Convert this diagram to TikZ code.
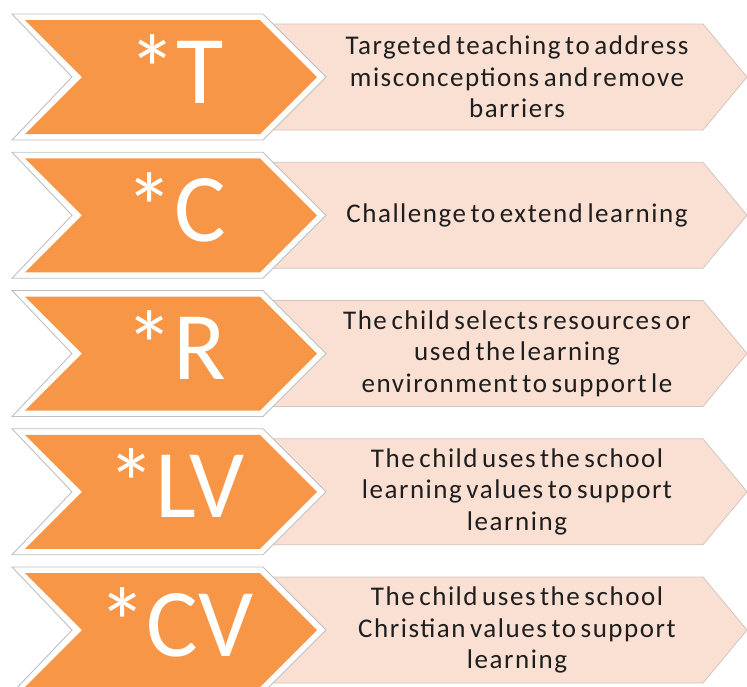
\documentclass[tikz,border=0pt]{standalone}
\usepackage{fontspec}
\setmainfont{Carlito}
\newfontfamily\listfont[LetterSpace=5.7,WordSpace=0.6]{Carlito}
\definecolor{orangefill}{HTML}{F79646}
\definecolor{pinkfill}{HTML}{FADFD3}
\definecolor{pinkline}{HTML}{D2C6C0}
\definecolor{outline}{HTML}{BFBFBF}
\definecolor{textdark}{HTML}{1E1E1E}
\tikzset{
  pinkchev/.style={fill=pinkfill, draw=pinkline, line width=0.8pt, line join=miter},
  whitechev/.style={fill=white, draw=outline, line width=0.9pt, line join=miter},
  orangechev/.style={fill=orangefill, draw=none},
  bigtext/.style={text=white, font=\fontsize{97}{116}\selectfont, anchor=base, inner sep=0pt},
  smalltext/.style={text=textdark, font=\listfont\fontsize{27}{31.5}\selectfont, align=center, anchor=center, inner sep=0pt}
}
\begin{document}
\begin{tikzpicture}[x=1pt,y=-1pt]
\useasboundingbox (0,0) rectangle (747,686);
\foreach \c/\n/\big/\txt in {
  77/1/{*T}/{Targeted teaching to address\\misconceptions and remove\\barriers},
  215.25/2/{*C}/{Challenge to extend learning},
  353.5/3/{*R}/{The child selects resources or\\used the learning\\environment to support le},
  491.75/4/{*LV}/{The child uses the school\\learning values to support\\learning},
  630/5/{*CV}/{The child uses the school\\Christian values to support\\learning}}{
  \draw[pinkchev] (250,\c-53) -- (703,\c-53) -- (747,\c) -- (703,\c+53) -- (250,\c+53) -- cycle;
  \draw[whitechev] (12,\c-63) -- (263,\c-63) -- (326,\c) -- (263,\c+63) -- (12,\c+63) -- (72,\c) -- cycle;
  \fill[orangechev] (25,\c-57) -- (260,\c-57) -- (317,\c) -- (260,\c+57) -- (25,\c+57) -- (82,\c) -- cycle;
  \node[bigtext] (big\n) at (176,\c+26) {\big};
  \node[smalltext] (txt\n) at (517,\c) {\txt};
}
\end{tikzpicture}
\end{document}
